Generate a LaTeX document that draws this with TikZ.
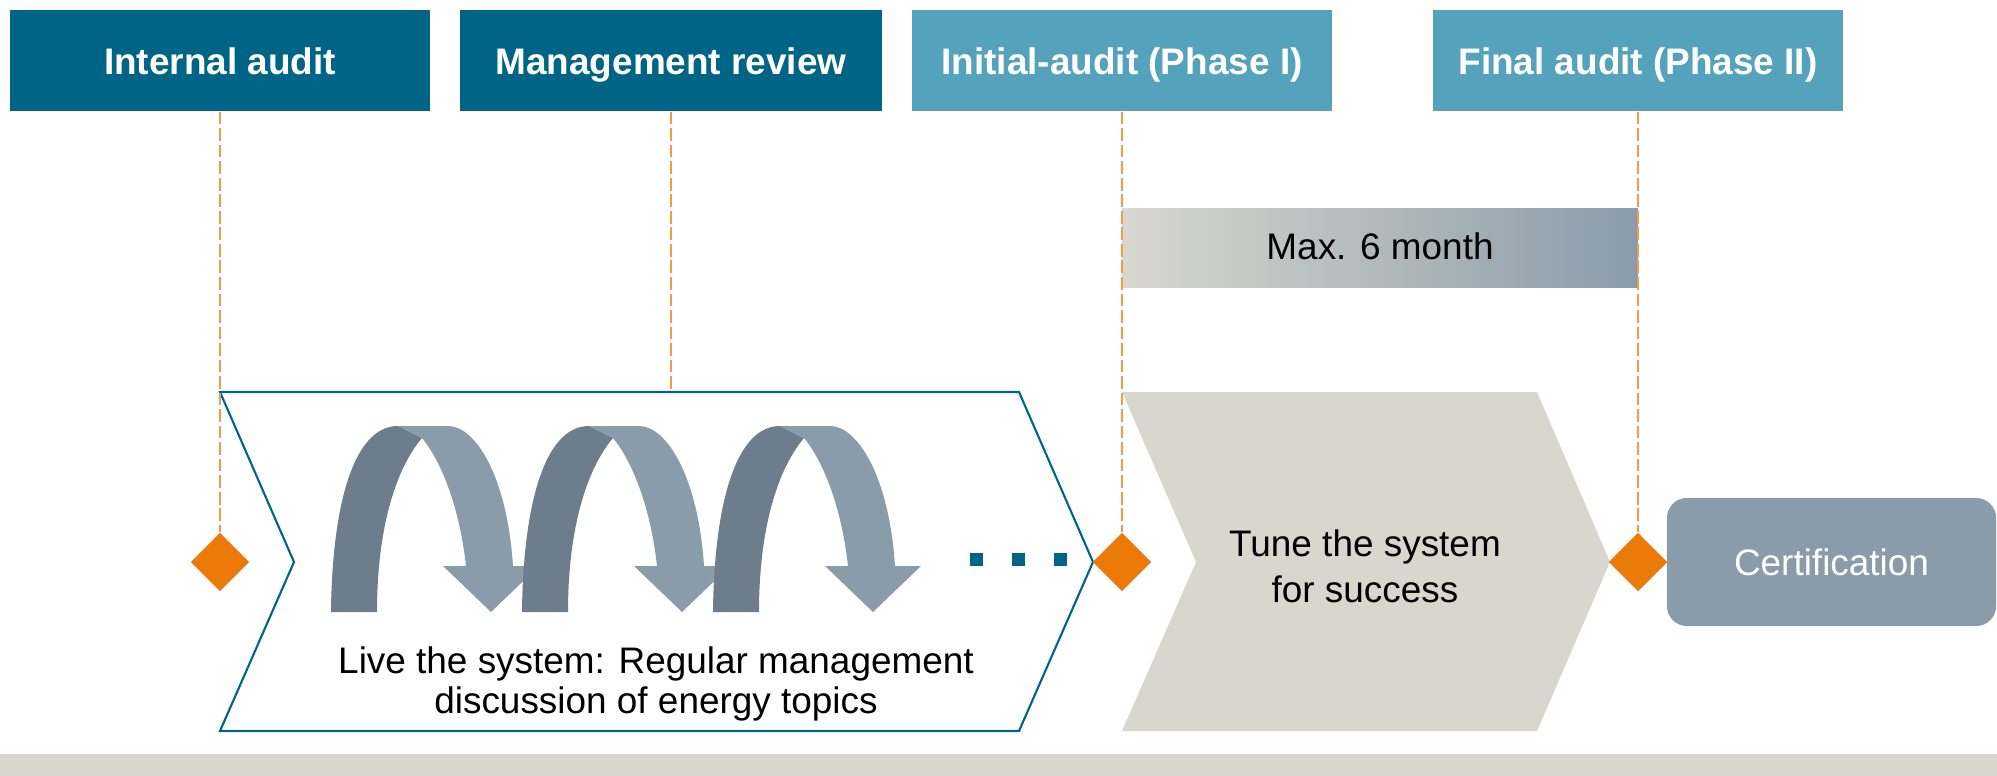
\documentclass[tikz,border=0pt]{standalone}
\usepackage{fontspec}
\setmainfont{Liberation Sans}
\usetikzlibrary{shapes.geometric}

\definecolor{auditblue}{RGB}{0,100,135}
\definecolor{phaseblue}{RGB}{84,162,188}
\definecolor{sand}{RGB}{215,215,206}
\definecolor{steel}{RGB}{138,155,170}
\definecolor{slate}{RGB}{110,125,139}
\definecolor{markorange}{RGB}{236,122,8}
\definecolor{guideorange}{RGB}{242,154,69}

\begin{document}
\begin{tikzpicture}[x=0.01cm,y=-0.01cm,
	header/.style={minimum height=1.01cm, inner sep=0pt, text=white,
		text height=1em, text depth=0.2em,
		font=\fontsize{10.5}{12}\selectfont\bfseries},
	milestone/.style={diamond, fill=markorange, minimum width=0.59cm,
		minimum height=0.59cm, inner sep=0pt},
	guide/.style={draw=guideorange, line width=0.6pt, dash pattern=on 3.6pt off 1.1pt},
	body/.style={align=center, inner sep=0pt, font=\fontsize{10.5}{11.4}\selectfont}]
	\useasboundingbox (0,0) rectangle (1997,776);
	\fill[sand] (0,754) rectangle (1997,776);
	
	% phases
	\draw[fill=white, draw=auditblue, line width=0.6pt] (220,392) -- (1019,392) -- (1093,562)
	-- (1019,731) -- (220,731) -- (294,562) -- cycle;
	\fill[sand] (1122,392) -- (1537,392) -- (1610,562) -- (1537,731) -- (1122,731)
	-- (1196,562) -- cycle;
	
	\foreach \dx in {0,191,382}{% loops
		\begin{scope}[shift={(\dx,0)}]
			\fill[slate] (331,612) .. controls (332,510) and (352,426) .. (398,426) -- (422,438)
			.. controls (395,470) and (377,530) .. (377,612) -- cycle;
			\fill[steel] (398,426) -- (448,426) .. controls (475,426) and (507,475) .. (513,566)
			-- (539,566) -- (491,612) -- (443,566) -- (466,566)
			.. controls (460,510) and (442,462) .. (422,438) -- cycle;
		\end{scope}
	}
	\foreach \x in {976,1018,1060}{%
		\fill[auditblue] (\x-6.5,552.5) rectangle +(13,13);
	}
	
	\node[body] (live) at (656,684) {Live the system: Regular management\\discussion of energy topics};
	\node[body, font=\fontsize{10.5}{13.1}\selectfont] (tune) at (1365,566) {Tune the system\\for success};
	\node[left color=sand, right color=steel, minimum width=5.16cm, minimum height=0.79cm,
		inner sep=0pt, text height=0.86em, text depth=0.2em,
		font=\fontsize{10.5}{12}\selectfont] (window) at (1380,248) {Max. 6 month};
	
	% audits
	\node[header, fill=auditblue, minimum width=4.2cm] (internal) at (220,60.5) {Internal audit};
	\node[header, fill=auditblue, minimum width=4.22cm] (review) at (671,60.5) {Management review};
	\node[header, fill=phaseblue, minimum width=4.2cm] (initial) at (1122,60.5) {Initial-audit (Phase I)};
	\node[header, fill=phaseblue, minimum width=4.1cm] (final) at (1638,60.5) {Final audit (Phase II)};
	
	\coordinate (reviewfoot) at (671,392);
	\node[milestone] (start) at (220,562) {};
	\node[milestone] (tuning) at (1122,562) {};
	\node[milestone] (done) at (1638,562) {};
	\draw[guide] (internal.south) -- (start.north);
	\draw[guide] (review.south) -- (reviewfoot);
	\draw[guide] (initial.south) -- (tuning.north);
	\draw[guide] (final.south) -- (done.north);
	
	\node[fill=steel, rounded corners=0.2cm, minimum width=3.29cm, minimum height=1.28cm,
		text=white, font=\fontsize{10.5}{12}\selectfont] (cert) at (1831.5,562) {Certification};
\end{tikzpicture}
\end{document}
